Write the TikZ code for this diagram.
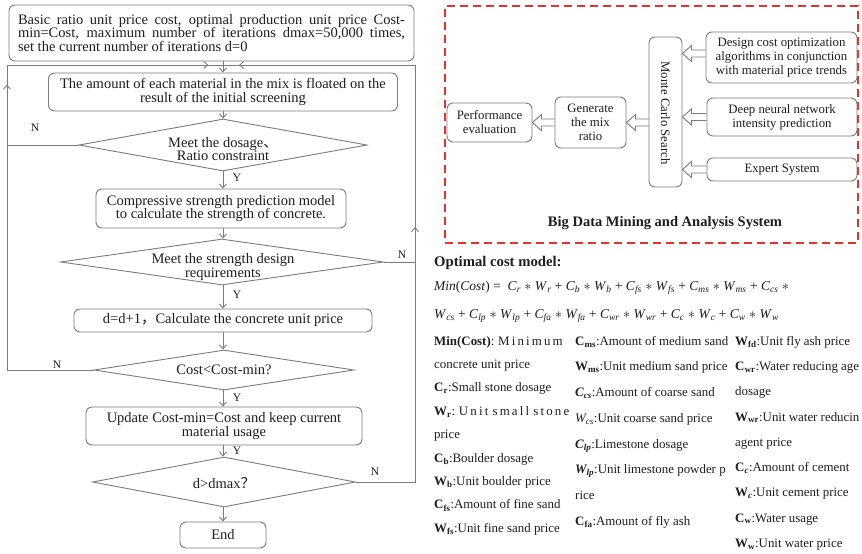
\documentclass[tikz,border=0pt]{standalone}
\usepackage{fontspec}
\setmainfont{Liberation Serif}
\newfontfamily\cjk{Noto Sans CJK SC}
\usetikzlibrary{arrows.meta,shapes.geometric,calc,decorations.markings}
\definecolor{ln}{HTML}{7C7C7C}
\definecolor{txt}{HTML}{1E1E1E}
\definecolor{dred}{HTML}{E5322F}
\newcommand\fsz{\fontsize{14.5}{13.5}\selectfont}
\newcommand\rsz{\fontsize{12.8}{14}\selectfont}
\newcommand\vs[2]{\textit{#1}\textsubscript{\textit{#2}}}
\newcommand\mul{ $\ast$ }
\newcommand\hollowarrow[2]{%
  \draw[harrowline] ($(#1)+(0,3.5)$) -- ($(#2)+(9,3.5)$) -- ($(#2)+(9,8)$) -- (#2)
    -- ($(#2)+(9,-8)$) -- ($(#2)+(9,-3.5)$) -- ($(#1)+(0,-3.5)$);}
\tikzset{flowtip/.tip={Straight Barb[length=4pt,width=7pt]}}
\begin{document}
\begin{tikzpicture}[x=1pt,y=-1pt,
  fbox/.style={draw=ln, line width=0.9pt, rounded corners=6pt, inner sep=0pt,
    align=center, font=\fsz, text=txt},
  dia/.style={draw=ln, line width=0.9pt, diamond, inner sep=0pt},
  ftext/.style={align=center, font=\fsz, text=txt, inner sep=0pt},
  lab/.style={font=\fontsize{11.5}{12}\selectfont, text=txt, inner sep=0pt},
  fline/.style={draw=ln, line width=0.9pt},
  farrow/.style={draw=ln, line width=0.9pt, -flowtip},
  rbox/.style={draw=ln, line width=0.9pt, rounded corners=6pt, inner sep=0pt,
    align=center, font=\rsz, text=txt},
  harrowline/.style={draw=ln, line width=0.9pt, line join=miter},
  coltext/.style={anchor=north west, align=left, inner sep=0pt, text=txt}
]
\useasboundingbox (0,0) rectangle (862,554);
\fill[white] (0,0) rectangle (862,554);

% ---------------- flowchart ----------------
\node[fbox, text width=387pt, align=justify, inner xsep=9pt, minimum height=56pt] (start) at (211.5,33)
  {Basic ratio unit price cost, optimal production unit price Cost-\linebreak min=Cost, maximum number of iterations dmax=50,000 times,\linebreak set the current number of iterations d=0};
\node[fbox, minimum width=349pt, minimum height=38pt] (b2) at (223,92)
  {The amount of each material in the mix is floated on the\\result of the initial screening};
\node[dia, minimum width=288pt, minimum height=52pt] (d1) at (223,145) {};
\node[ftext] (d1t) at (223,149) {Meet the dosage{\cjk 、}\\Ratio constraint};
\node[fbox, minimum width=250pt, minimum height=39pt] (b3) at (221,208.5)
  {Compressive strength prediction model\\to calculate the strength of concrete.};
\node[dia, minimum width=323pt, minimum height=46pt] (d2) at (222,262) {};
\node[ftext] (d2t) at (223,267) {Meet the strength design\\requirements};
\node[fbox, minimum width=298pt, minimum height=23pt] (b4) at (223,320.5)
  {d=d+1{\cjk ，}Calculate the concrete unit price};
\node[dia, minimum width=260pt, minimum height=40pt] (d3) at (224,370) {};
\node[ftext] (d3t) at (224,370) {Cost<Cost-min?};
\node[fbox, minimum width=276pt, minimum height=38pt] (b5) at (224,426)
  {Update Cost-min=Cost and keep current\\material usage};
\node[dia, minimum width=263pt, minimum height=50pt] (d4) at (224,482) {};
\node[ftext] (d4t) at (224,483) {d>dmax{\cjk ？}};
\node[fbox, minimum width=86pt, minimum height=26pt] (end) at (223,535) {End};

\coordinate (s0) at (223,61);
\draw[farrow] (s0) -- (s0 |- b2.north);
\draw[farrow] (b2.south -| s0) -- (d1.north -| s0);
\draw[farrow] (d1.south -| s0) -- (b3.north -| s0);
\draw[farrow] (b3.south -| s0) -- (d2.north -| s0);
\draw[farrow] (d2.south -| s0) -- (b4.north -| s0);
\draw[farrow] (b4.south -| s0) -- (d3.north -| s0);
\draw[farrow] (d3.south -| s0) -- (b5.north -| s0);
\draw[farrow] (b5.south -| s0) -- (d4.north -| s0);
\draw[farrow] (d4.south -| s0) -- (end.north -| s0);

\coordinate (LT) at (7,65);
\coordinate (RT) at (415,65);
\coordinate (CT) at (223,65);
\coordinate (L1) at (7,145);
\coordinate (L3) at (7,370);
\coordinate (R2) at (415,262);
\coordinate (R4) at (415,482);
\draw[fline] (d1.west) -- (L1);
\draw[fline, postaction={decorate}, decoration={markings,
    mark=at position 372pt with {\arrow{flowtip}},
    mark=at position 593pt with {\arrow{flowtip}}}]
  (d3.west) -- (L3) -- (LT) -- (CT);
\draw[fline] (d2.east) -- (R2);
\draw[fline, postaction={decorate}, decoration={markings,
    mark=at position 314pt with {\arrow{flowtip}},
    mark=at position 652pt with {\arrow{flowtip}}}]
  (d4.east) -- (R4) -- (RT) -- (CT);

\node[lab] (n1) at (35,128) {N};
\node[lab] (n2) at (402,255) {N};
\node[lab] (n3) at (57,365) {N};
\node[lab] (n4) at (375,472) {N};
\node[lab] (y1) at (237,178) {Y};
\node[lab] (y2) at (237,295) {Y};
\node[lab] (y3) at (237,398) {Y};
\node[lab] (y4) at (237,451) {Y};

% ---------------- right panel ----------------
\node[draw=dred, line width=1.8pt, dash pattern=on 8pt off 5pt, minimum width=413pt,
  minimum height=237pt, inner sep=0pt] (frame) at (651.5,124.5) {};
\node[rbox, minimum width=85pt, minimum height=39pt] (perf) at (489.5,122.5) {Performance\\evaluation};
\node[rbox, minimum width=71pt, minimum height=51pt] (gen) at (590.5,122.5) {Generate\\the mix\\ratio};
\node[rbox, minimum width=33pt, minimum height=150pt] (mc) at (665.5,112) {};
\node[font=\rsz, text=txt, rotate=-90, inner sep=0pt] (mct) at (665.5,113) {Monte Carlo Search};
\node[rbox, minimum width=151pt, minimum height=51pt] (des) at (781.5,57.5)
  {Design cost optimization\\algorithms in conjunction\\with material price trends};
\node[rbox, minimum width=150pt, minimum height=38pt] (dnn) at (782,117)
  {Deep neural network\\intensity prediction};
\node[rbox, minimum width=150pt, minimum height=23pt] (exp) at (782,169.5) {Expert System};
\node[font=\bfseries\fontsize{14.5}{16}\selectfont, text=txt, inner sep=0pt] (title) at (665,223)
  {Big Data Mining and Analysis System};

\coordinate (a1s) at ($(des.west)+(0,-4)$);
\coordinate (a1t) at (mc.east |- a1s);
\coordinate (a2s) at (dnn.west);
\coordinate (a2t) at (mc.east |- a2s);
\coordinate (a3s) at (exp.west);
\coordinate (a3t) at (mc.east |- a3s);
\coordinate (a4s) at (mc.west |- gen.east);
\coordinate (a4t) at (gen.east);
\coordinate (a5s) at (gen.west);
\coordinate (a5t) at (perf.east);
\hollowarrow{a1s}{a1t}
\hollowarrow{a2s}{a2t}
\hollowarrow{a3s}{a3t}
\hollowarrow{a4s}{a4t}
\hollowarrow{a5s}{a5t}

% ---------------- cost model ----------------
\node[anchor=west, inner sep=0pt, text=txt, font=\bfseries\fontsize{14.7}{16}\selectfont] (oc) at (434,263)
  {Optimal cost model:};
\node[anchor=west, inner sep=0pt, text=txt, font=\fontsize{13.5}{15}\selectfont] (eq1) at (434,288)
  {\textit{Min}(\textit{Cost}) = \ \vs{C}{r}\mul\vs{W}{r} + \vs{C}{b}\mul\vs{W}{b} + \vs{C}{fs}\mul\vs{W}{fs} + \vs{C}{ms}\mul\vs{W}{ms} + \vs{C}{cs}\mul};
\node[anchor=west, inner sep=0pt, text=txt, font=\fontsize{13.5}{15}\selectfont] (eq2) at (434,316)
  {\vs{W}{cs} + \vs{C}{lp}\mul\vs{W}{lp} + \vs{C}{fa}\mul\vs{W}{fa} + \vs{C}{wr}\mul\vs{W}{wr} + \vs{C}{c}\mul\vs{W}{c} + \vs{C}{w}\mul\vs{W}{w}};

\node[coltext, font=\fontsize{12.9}{23.4}\selectfont] (col1) at (434,336)
  {\makebox[125pt][s]{\textbf{Min(Cost)}: M i n i m u m}\\
   concrete unit price\\
   \textbf{C\textsubscript{r}}:Small stone dosage\\
   \makebox[125pt][s]{\textbf{W\textsubscript{r}}: U n i t \ s m a l l \ s t o n e}\\
   price\\
   \textbf{C\textsubscript{b}}:Boulder dosage\\
   \textbf{W\textsubscript{b}}:Unit boulder price\\
   \textbf{C\textsubscript{fs}}:Amount of fine sand\\
   \textbf{W\textsubscript{fs}}:Unit fine sand price};
\node[coltext, font=\fontsize{12.9}{25.7}\selectfont] (col2) at (575,336)
  {\textbf{C\textsubscript{ms}}:Amount of medium sand\\
   \textbf{W\textsubscript{ms}}:Unit medium sand price\\
   \textbf{\textit{C\textsubscript{cs}}}:Amount of coarse sand\\
   \textit{W\textsubscript{cs}}:Unit coarse sand price\\
   \textbf{\textit{C\textsubscript{lp}}}:Limestone dosage\\
   \textbf{\textit{W\textsubscript{lp}}}:Unit limestone powder p\\
   rice\\
   \textbf{C\textsubscript{fa}}:Amount of fly ash};
\node[coltext, font=\fontsize{12.9}{25.25}\selectfont] (col3) at (735,336)
  {\textbf{W\textsubscript{fd}}:Unit fly ash price\\
   \textbf{C\textsubscript{wr}}:Water reducing age\\
   dosage\\
   \textbf{W\textsubscript{wr}}:Unit water reducin\\
   agent price\\
   \textbf{C\textsubscript{\textit{c}}}:Amount of cement\\
   \textbf{W\textsubscript{\textit{c}}}:Unit cement price\\
   \textbf{C\textsubscript{w}}:Water usage\\
   \textbf{W\textsubscript{w}}:Unit water price};
\end{tikzpicture}
\end{document}
